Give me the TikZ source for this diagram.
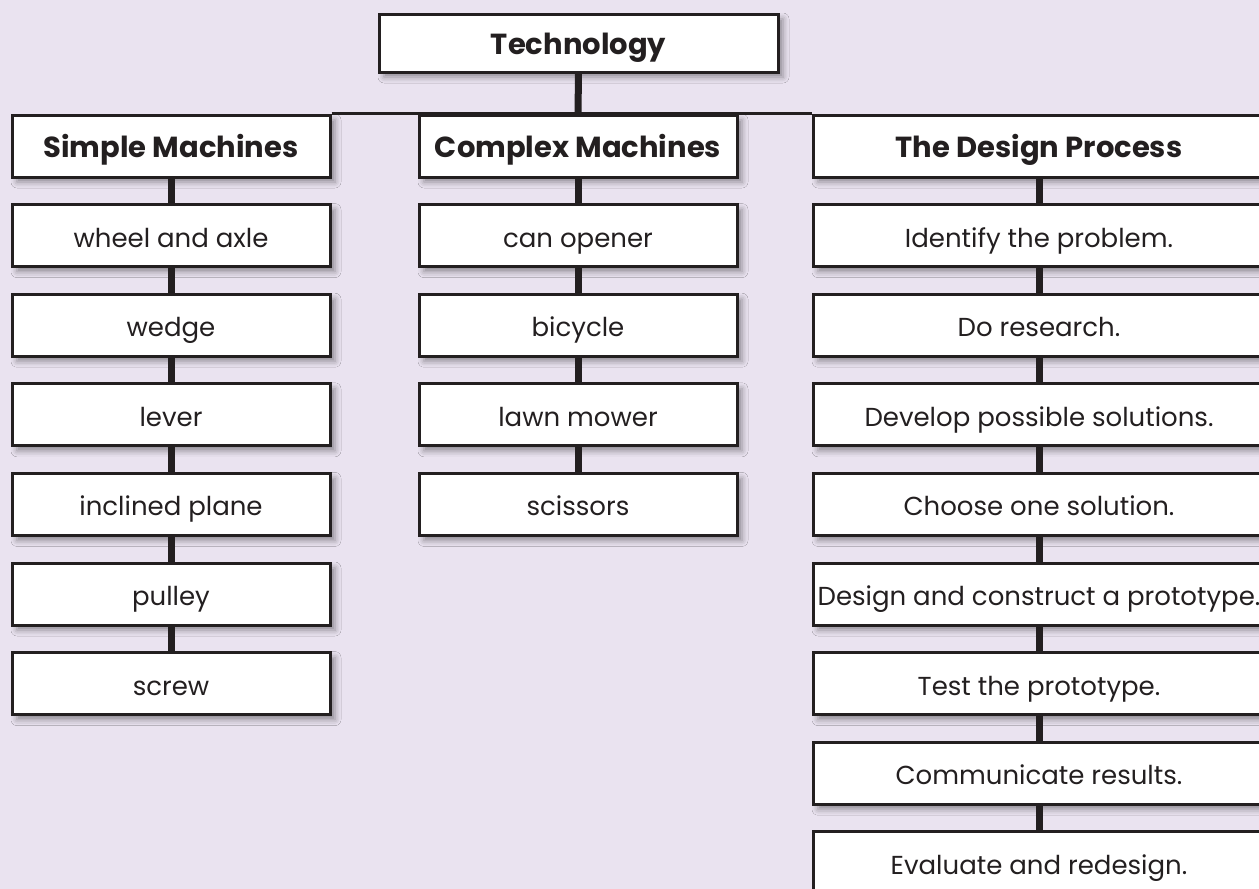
\documentclass[tikz,border=0pt]{standalone}
\usepackage{fontspec}
\setmainfont{Poppins}
\usepackage{tikz}
\usetikzlibrary{positioning, shadows.blur}

\definecolor{bgpurple}{RGB}{234,227,240}
\definecolor{inkdark}{RGB}{35,31,32}

\begin{document}
\begin{tikzpicture}[
    x=0.5pt, y=-0.5pt,
    node distance=12.3pt,
    box/.style={rectangle, draw=inkdark, line width=1.5pt, fill=white, text=inkdark, minimum height=31pt, inner sep=0pt, text height=12pt, text depth=0.5pt, font=\fontsize{13}{15}\selectfont, blur shadow={shadow xshift=2.5pt, shadow yshift=-2.5pt, shadow blur radius=3pt, shadow opacity=40}},
    head/.style={box, font=\fontsize{14.5}{16}\selectfont\bfseries},
    narrow/.style={minimum width=159pt},
    wide/.style={minimum width=226pt},
    link/.style={draw=inkdark, line width=3.5pt},
    bar/.style={draw=inkdark, line width=1.5pt}
]

\clip (0,0) rectangle (1259,889);
\fill[bgpurple] (0,0) rectangle (1259,889);

% Top of the tree
\node[head, minimum width=199.5pt, minimum height=29pt] (tech) at (578.5,43) {Technology};

% Simple machines
\node[head, narrow] (simple) at (171,146) {Simple Machines};
\node[box, narrow, below=of simple] (wheel) {wheel and axle};
\node[box, narrow, below=of wheel] (wedge) {wedge};
\node[box, narrow, below=of wedge] (lever) {lever};
\node[box, narrow, below=of lever] (incline) {inclined plane};
\node[box, narrow, below=of incline] (pulley) {pulley};
\node[box, narrow, below=of pulley] (screw) {screw};

% Complex machines
\node[head, narrow] (complex) at (578,146) {Complex Machines};
\node[box, narrow, below=of complex] (opener) {can opener};
\node[box, narrow, below=of opener] (bicycle) {bicycle};
\node[box, narrow, below=of bicycle] (mower) {lawn mower};
\node[box, narrow, below=of mower] (scissors) {scissors};

% Design process steps
\node[head, wide] (design) at (1039,146) {The Design Process};
\node[box, wide, below=of design] (identify) {Identify the problem.};
\node[box, wide, below=of identify] (research) {Do research.};
\node[box, wide, below=of research] (develop) {Develop possible solutions.};
\node[box, wide, below=of develop] (choose) {Choose one solution.};
\node[box, wide, below=of choose] (build) {Design and construct a prototype.};
\node[box, wide, below=of build] (test) {Test the prototype.};
\node[box, wide, below=of test] (communicate) {Communicate results.};
\node[box, wide, below=of communicate] (evaluate) {Evaluate and redesign.};

% Connectors
\draw[link] (tech.south) -- (complex.north);
\draw[bar] (simple.north east) -- (design.north west);

\draw[link] (simple) -- (wheel);
\draw[link] (wheel) -- (wedge);
\draw[link] (wedge) -- (lever);
\draw[link] (lever) -- (incline);
\draw[link] (incline) -- (pulley);
\draw[link] (pulley) -- (screw);

\draw[link] (complex) -- (opener);
\draw[link] (opener) -- (bicycle);
\draw[link] (bicycle) -- (mower);
\draw[link] (mower) -- (scissors);

\draw[link] (design) -- (identify);
\draw[link] (identify) -- (research);
\draw[link] (research) -- (develop);
\draw[link] (develop) -- (choose);
\draw[link] (choose) -- (build);
\draw[link] (build) -- (test);
\draw[link] (test) -- (communicate);
\draw[link] (communicate) -- (evaluate);

\end{tikzpicture}
\end{document}
